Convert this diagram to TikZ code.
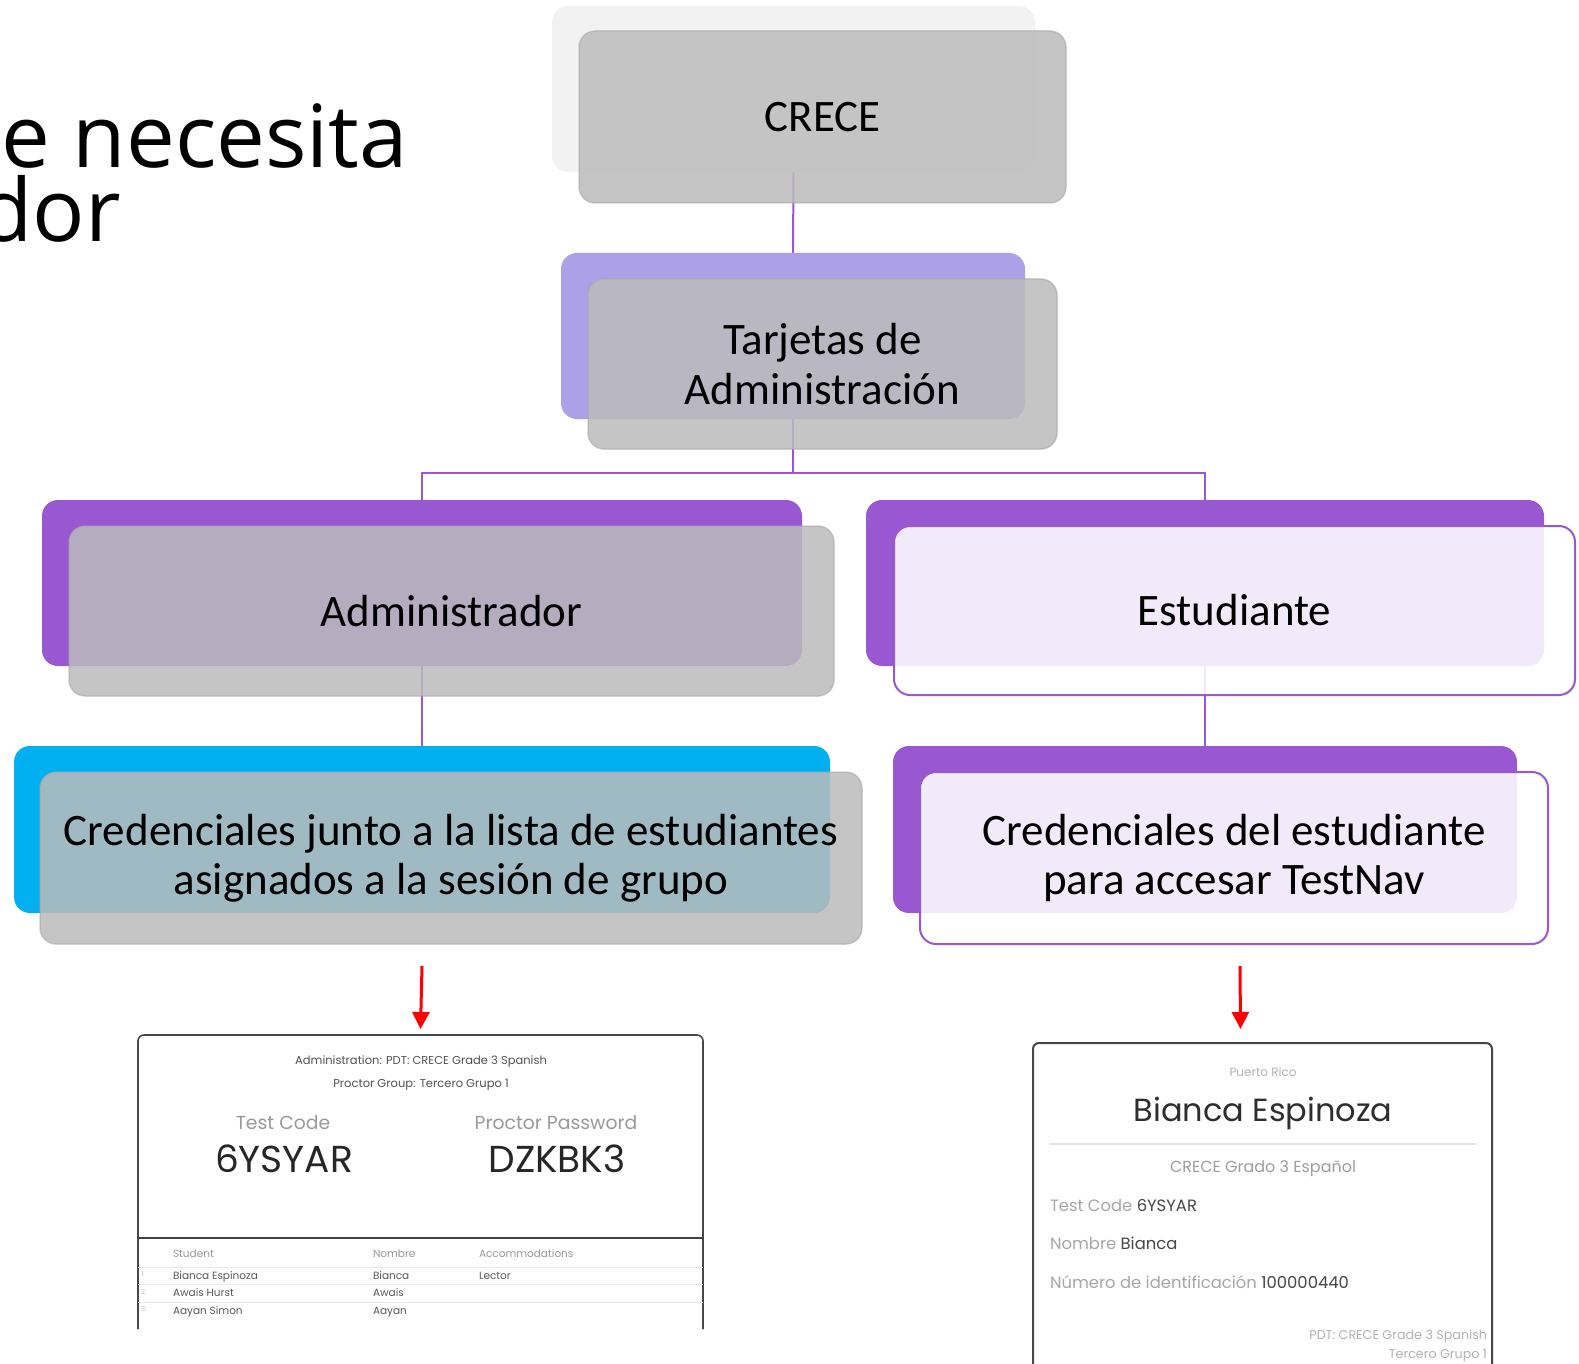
\documentclass[tikz,border=0pt]{standalone}
\usepackage{fontspec}
\setmainfont{Carlito}
\newfontfamily\titlefont{Open Sans}
\newfontfamily\popfont{Poppins}
\usetikzlibrary{arrows.meta,calc}
\definecolor{purp}{RGB}{153,87,210}
\definecolor{lav}{RGB}{172,160,232}
\definecolor{cyanb}{RGB}{0,176,240}
\definecolor{grayf}{RGB}{188,188,188}
\definecolor{lightb}{RGB}{242,242,242}
\definecolor{redar}{RGB}{255,0,0}
\begin{document}
\begin{tikzpicture}[x=1pt,y=-1pt,
  box/.style={rectangle, rounded corners=16pt, inner sep=0pt, outer sep=0pt},
  dims/.style 2 args={minimum width=#1pt, minimum height=#2pt},
  backbox/.style={box, draw=none},
  frontgray/.style={box, fill=grayf, fill opacity=0.85, draw=black!35, draw opacity=0.5, line width=1.5pt, text opacity=1},
  frontwhite/.style={box, fill=white, fill opacity=0.88, draw=purp, line width=2pt, text opacity=1},
  lbl/.style={font=\fontsize{45}{49.5}\selectfont, align=center, text=black},
  conn/.style={draw=purp, line width=2pt},
  redarrow/.style={draw=redar, line width=3pt, -{Triangle[width=17pt,length=17pt]}},
  cardborder/.style={draw=black!72, line width=1.6pt, rounded corners=6pt},
  ctxt/.style={inner sep=0pt, outer sep=0pt},
]
\clip (0,0) rectangle (1579,1364);
\fill[white] (0,0) rectangle (1579,1364);

% title fragment (as it is cut in the reference)
\node[ctxt, anchor=base east, font=\titlefont\fontsize{87}{87}\selectfont] (t1) at (408,168) {ue necesita};
\node[ctxt, anchor=base east, font=\titlefont\fontsize{87}{87}\selectfont] (t2) at (121,242) {dor};

\coordinate (split) at (793,473);

% back box frames (named)
\path (793.5,89) node[backbox, dims={483}{166}] (crecebk) {};
\path (793,336) node[backbox, dims={464}{166}] (tarjbk) {};
\path (422,583) node[backbox, dims={760}{166}] (adminbk) {};
\path (1205,583) node[backbox, dims={678}{166}] (studbk) {};
\path (422,829.5) node[backbox, dims={816}{167}] (credadmbk) {};
\path (1205,829.5) node[backbox, dims={624}{167}] (credstubk) {};

% connectors (behind boxes)
\draw[conn] (crecebk.south) -- (tarjbk.north);
\draw[conn] (tarjbk.south) -- (split);
\draw[conn] (adminbk.north) |- (split) -| (studbk.north);
\draw[conn] (adminbk.south) -- (credadmbk.north);
\draw[conn] (studbk.south) -- (credstubk.north);

% back boxes
\fill[lightb, rounded corners=16pt] (crecebk.south west) rectangle (crecebk.north east);
\fill[lav, rounded corners=16pt] (tarjbk.south west) rectangle (tarjbk.north east);
\fill[purp, rounded corners=16pt] (adminbk.south west) rectangle (adminbk.north east);
\fill[purp, rounded corners=16pt] (studbk.south west) rectangle (studbk.north east);
\fill[cyanb, rounded corners=16pt] (credadmbk.south west) rectangle (credadmbk.north east);
\fill[purp, rounded corners=16pt] (credstubk.south west) rectangle (credstubk.north east);

% front boxes with text
\node[frontgray, dims={487}{172}, lbl] (crece) at (822.5,117) {CRECE};
\node[frontgray, dims={469}{170}, lbl] (tarj) at (822.5,364) {Tarjetas de\\Administración};
\node[frontgray, dims={765}{170}, lbl] (admin) at (451.5,611) {Administrador};
\node[frontwhite, dims={681}{169}, lbl] (stud) at (1234.5,610.5) {Estudiante};
\node[frontgray, dims={822}{172}, lbl] (credadm) at (451,858) {Credenciales junto a la lista de estudiantes\\asignados a la sesión de grupo};
\node[frontwhite, dims={628}{172}, lbl] (credstu) at (1234,858) {Credenciales del estudiante\\para accesar TestNav};

% cards
\node[ctxt, dims={565}{294}] (admcard) at (420.5,1182) {};
\node[ctxt, dims={459}{330}] (stucard) at (1262.5,1208) {};
\draw[cardborder] (admcard.south west) -- (admcard.north west) -- (admcard.north east) -- (admcard.south east);
\draw[cardborder, line width=2pt] (stucard.south west) -- (stucard.north west) -- (stucard.north east) -- (stucard.south east);

% red arrows
\draw[redarrow] ([yshift=-53pt]credadmbk.south) -- ([yshift=6pt]admcard.north);
\draw[redarrow] ([xshift=6pt,yshift=-22pt]credstu.south) -- ([xshift=-22pt,yshift=14pt]stucard.north);

% admin card content
\begin{scope}[every node/.style={ctxt}]
\node[anchor=base, font=\popfont\fontsize{11.5}{13}\selectfont, text=black!68] (a1) at (421,1064) {Administration: PDT: CRECE Grade 3 Spanish};
\node[anchor=base, font=\popfont\fontsize{11.5}{13}\selectfont, text=black!68] (a2) at (421,1087) {Proctor Group: Tercero Grupo 1};
\node[anchor=base, font=\popfont\fontsize{18.8}{22}\selectfont, text=black!40] (a3) at (283,1129) {Test Code};
\node[anchor=base, font=\popfont\fontsize{18.8}{22}\selectfont, text=black!40] (a4) at (556,1129) {Proctor Password};
\node[anchor=base, font=\popfont\fontsize{37.5}{40}\selectfont, text=black!85] (a5) at (284,1172) {6YSYAR};
\node[anchor=base, font=\popfont\fontsize{37.5}{40}\selectfont, text=black!85] (a6) at (557,1172) {DZKBK3};
\end{scope}
\draw[black!75, line width=1.5pt] (138,1238) -- (703,1238);
\draw[black!8, line width=1pt] (138,1267) -- (703,1267);
\draw[black!8, line width=1pt] (138,1284) -- (703,1284);
\draw[black!8, line width=1pt] (138,1302) -- (703,1302);
\begin{scope}[every node/.style={ctxt, anchor=base west, font=\popfont\fontsize{10.5}{12}\selectfont, text=black!65}]
\node[text=black!40] (h1) at (173,1257) {Student};
\node[text=black!40] (h2) at (373,1257) {Nombre};
\node[text=black!40] (h3) at (479,1257) {Accommodations};
\node[text=black!25, font=\popfont\fontsize{7}{8}\selectfont] (n1) at (141,1276) {1.};
\node[text=black!25, font=\popfont\fontsize{7}{8}\selectfont] (n2) at (141,1294) {2.};
\node[text=black!25, font=\popfont\fontsize{7}{8}\selectfont] (n3) at (141,1311) {3.};
\node (r1a) at (173,1279) {Bianca Espinoza};
\node (r1b) at (373,1279) {Bianca};
\node (r1c) at (479,1279) {Lector};
\node (r2a) at (173,1296) {Awais Hurst};
\node (r2b) at (373,1296) {Awais};
\node (r3a) at (173,1314) {Aayan Simon};
\node (r3b) at (373,1314) {Aayan};
\end{scope}

% student card content
\begin{scope}[every node/.style={ctxt}]
\node[anchor=base, font=\popfont\fontsize{12}{13}\selectfont, text=black!30] (s1) at (1263,1076) {Puerto Rico};
\node[anchor=base, font=\popfont\fontsize{32}{34}\selectfont, text=black!82] (s2) at (1263,1121) {Bianca Espinoza};
\node[anchor=base, font=\popfont\fontsize{16}{17}\selectfont, text=black!38] (s3) at (1263,1172) {CRECE Grado 3 Español};
\node[anchor=base west, font=\popfont\fontsize{16.4}{17}\selectfont, text=black!35] (s4) at (1050,1211) {Test Code \textcolor{black!72}{6YSYAR}};
\node[anchor=base west, font=\popfont\fontsize{16.4}{17}\selectfont, text=black!35] (s5) at (1050,1249) {Nombre \textcolor{black!72}{Bianca}};
\node[anchor=base west, font=\popfont\fontsize{16.4}{17}\selectfont, text=black!35] (s6) at (1050,1288) {Número de identificación \textcolor{black!72}{100000440}};
\node[anchor=base east, font=\popfont\fontsize{12.7}{13}\selectfont, text=black!30] (s7) at (1487,1339) {PDT: CRECE Grade 3 Spanish};
\node[anchor=base east, font=\popfont\fontsize{12.7}{13}\selectfont, text=black!30] (s8) at (1487,1358) {Tercero Grupo 1};
\end{scope}
\draw[black!10, line width=1.5pt] (1049,1144) -- (1476,1144);
\end{tikzpicture}
\end{document}
